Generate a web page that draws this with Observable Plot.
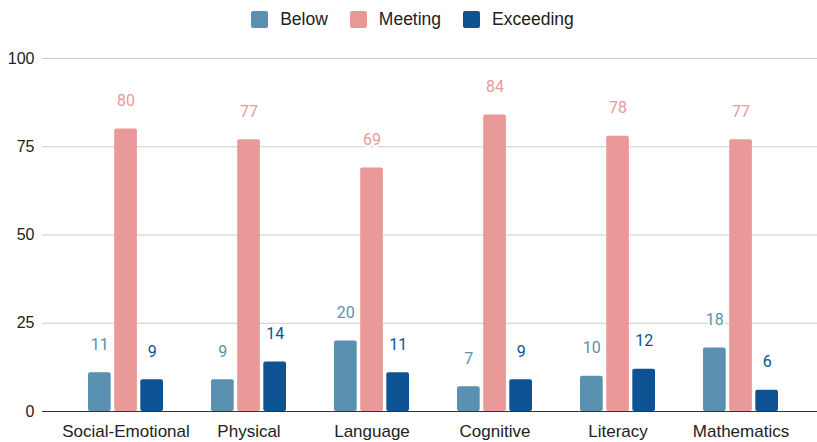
<!DOCTYPE html>
<html>
<head>
<meta charset="utf-8">
<script src="https://cdn.jsdelivr.net/npm/d3@7"></script>
<script src="https://cdn.jsdelivr.net/npm/@observablehq/plot@0.6"></script>
<style>
  body { margin: 0; background: #fff; }
  #legend { height: 38px; display: flex; justify-content: center; align-items: center; font-family: "Liberation Sans", Arial, sans-serif; font-size: 17.5px; color: #222; padding-left: 8px; box-sizing: border-box; }
  .item { display: flex; align-items: center; margin: 0 11px; }
  .sw { width: 17px; height: 17px; border-radius: 2px; margin-right: 12px; }
</style>
</head>
<body>
<div id="legend"></div>
<div id="chart"></div>
<script>
const categories = ["Social-Emotional", "Physical", "Language", "Cognitive", "Literacy", "Mathematics"];
const seriesNames = ["Below", "Meeting", "Exceeding"];
const below = [11, 9, 20, 7, 10, 18];
const meeting = [80, 77, 69, 84, 78, 77];
const exceeding = [9, 14, 11, 9, 12, 6];
const yTicks = [0, 25, 50, 75, 100];
const colors = ["#5a91b0", "#ea9999", "#0d5394"];

const seriesValues = [below, meeting, exceeding];
const tables = seriesValues.map(vals => categories.map((c, i) => ({category: c, value: vals[i]})));

const legend = document.getElementById("legend");
seriesNames.forEach((s, i) => {
  const it = document.createElement("div");
  it.className = "item";
  it.innerHTML = `<div class="sw" style="background:${colors[i]}"></div><span>${s}</span>`;
  legend.appendChild(it);
});

const insets = [[0, 52.3], [26.2, 26.1], [52.3, 0]];
const offsets = [-26.15, 0, 26.15];

const marks = [
  Plot.ruleY(yTicks.slice(1), {stroke: "#cccccc", strokeWidth: 1})
];
tables.forEach((t, i) => {
  marks.push(Plot.barY(t, {x: "category", y: "value", fill: colors[i], insetLeft: insets[i][0], insetRight: insets[i][1], rx: 2}));
});
marks.push(Plot.ruleY([0], {stroke: "#333", strokeWidth: 1}));
tables.forEach((t, i) => {
  marks.push(Plot.text(t, {x: "category", y: "value", text: d => String(d.value), dx: offsets[i], dy: -28, fill: colors[i], stroke: "white", strokeWidth: 4, fontSize: 16, fontFamily: "Roboto, sans-serif"}));
});
marks.push(Plot.axisX({fontSize: 17, tickSize: 0, tickPadding: 13, label: null}));
marks.push(Plot.axisY({ticks: yTicks, fontSize: 16, tickSize: 0, tickPadding: 8, label: null}));

const chart = Plot.plot({
  width: 817,
  height: 404,
  marginLeft: 42,
  marginRight: 0,
  marginTop: 20,
  marginBottom: 31,
  style: {fontFamily: "'Liberation Sans', Arial, sans-serif", fontSize: "16px", color: "#222", background: "white"},
  x: {domain: categories, paddingInner: 0.39, paddingOuter: 0.195, insetLeft: 22, insetRight: 15, label: null},
  y: {domain: [0, 100], label: null},
  marks
});
document.getElementById("chart").appendChild(chart);
</script>
</body>
</html>
